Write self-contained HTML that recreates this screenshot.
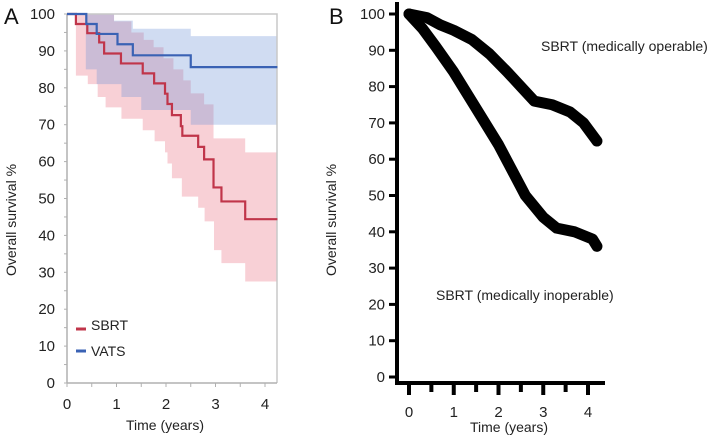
<!DOCTYPE html>
<html><head><meta charset="utf-8"><style>
html,body{margin:0;padding:0;background:#fff;}
svg{display:block;font-family:"Liberation Sans",sans-serif;}
</style></head><body>
<svg width="716" height="436" viewBox="0 0 716 436">
<g id="A"></g>
<g id="B"></g>
</svg>
<script>
const NS="http://www.w3.org/2000/svg";
// Panel A data
const sbrtT=[0,0.18,0.41,0.65,0.75,1.09,1.53,1.76,1.98,2.03,2.12,2.30,2.33,2.65,2.77,2.96,3.12,3.60];
const sbrtV=[100,97.3,94.8,92.3,89.3,86.6,83.9,81.2,78.4,75.6,72.6,69.6,67.0,64.0,60.6,53.0,49.2,44.4];
const vatsT=[0,0.39,0.60,1.02,1.33,2.50];
const vatsV=[100,97.3,94.6,91.8,88.8,85.6];
const sbrtLoT=[0,0.18,0.42,0.62,0.78,1.10,1.53,1.77,1.98,2.03,2.12,2.32,2.65,2.78,2.97,3.12,3.60];
const sbrtLoV=[100,83.3,81,77.5,74.7,71.6,68.5,65.5,62.5,59.5,55.5,50.5,47.5,43.8,36,32.5,27.5];
const sbrtHiT=[0,0.95,1.3,1.55,1.75,1.95,2.15,2.35,2.5,2.77,2.96,3.6];
const sbrtHiV=[100,98,95,93,91,88,85,82,78.5,75.5,66.3,62.5];
const vatsLoT=[0,0.38,0.6,1.1,1.5,2.5];
const vatsLoV=[100,85,81,77.5,74,70];
const vatsHiT=[0,0.95,1.33,2.5];
const vatsHiV=[100,98.2,96,94];
const xTicksA=[0,1,2,3,4];
const yTicksA=[0,10,20,30,40,50,60,70,80,90,100];
// Panel B data
const opT=[0,0.4,0.7,1.0,1.4,1.8,2.2,2.5,2.8,3.2,3.6,3.9,4.2];
const opV=[100,99,97,95.5,93,89,84,80,76,75,73,70,65];
const inopT=[0,0.3,0.6,1.0,1.3,1.6,2.0,2.3,2.6,3.0,3.3,3.7,4.1,4.2];
const inopV=[100,96,91,84,78,72,64,57,50,44,41,40,38,36];
const xTicksB=[0,1,2,3,4];
const yTicksB=[0,10,20,30,40,50,60,70,80,90,100];

const TEND=4.25;
const ax=t=>67+t*49.5, ay=v=>383-v*3.69;
const bx=t=>409+t*44.75, by=v=>377-v*3.63;
function el(tag,attrs,parent,text){const e=document.createElementNS(NS,tag);for(const k in attrs)e.setAttribute(k,attrs[k]);if(text!==undefined)e.textContent=text;parent.appendChild(e);return e;}
function stepPts(T,V){let p=[];for(let i=0;i<T.length;i++){if(i>0)p.push([ax(T[i]),ay(V[i-1])]);p.push([ax(T[i]),ay(V[i])]);}p.push([ax(TEND),ay(V[V.length-1])]);return p;}
const A=document.getElementById('A'),B=document.getElementById('B');

function band(HT,HV,LT,LV,fill,name){const hi=stepPts(HT,HV),lo=stepPts(LT,LV).reverse();const d='M'+hi.concat(lo).map(p=>p.join(',')).join('L')+'Z';
const e=el('path',{d:d,fill:fill},A);

}
band(sbrtHiT,sbrtHiV,sbrtLoT,sbrtLoV,'rgba(232,110,128,0.32)','sbrt-ci-band');
band(vatsHiT,vatsHiV,vatsLoT,vatsLoV,'rgba(110,145,215,0.32)','vats-ci-band');

let f=el('path',{d:`M${ax(0)},${ay(100)}H277V383`,fill:'none',stroke:'#c8c8c8','stroke-width':1.5},A);


let yl=el('line',{x1:67,y1:ay(100),x2:67,y2:383,stroke:'#b0b0b0','stroke-width':1.5},A);


let xl=el('line',{x1:67,y1:383,x2:277,y2:383,stroke:'#b0b0b0','stroke-width':1.5},A);


for(let v=0;v<=100;v+=5){const t=el('line',{x1:64,y1:ay(v),x2:67,y2:ay(v),stroke:'#b0b0b0'},A);

}
for(let t=0;t<=4;t+=0.5){const k=el('line',{x1:ax(t),y1:383,x2:ax(t),y2:387,stroke:'#b0b0b0'},A);

}
yTicksA.forEach(v=>{const t=el('text',{x:55,y:ay(v)+5,'text-anchor':'end','font-size':15,fill:'#222'},A,v);

});
xTicksA.forEach(v=>{const t=el('text',{x:ax(v),y:409,'text-anchor':'middle','font-size':15,fill:'#222'},A,v);

});

function line(T,V,color,name){const p=stepPts(T,V);const e=el('polyline',{points:p.map(q=>q.join(',')).join(' '),fill:'none',stroke:color,'stroke-width':2.2},A);

}
line(sbrtT,sbrtV,'#c0354a','sbrt-curve');
line(vatsT,vatsV,'#3a62b4','vats-curve');

let t;
t=el('text',{x:4,y:24,'font-size':22,fill:'#111'},A,'A');


t=el('text',{x:0,y:0,transform:'translate(16,220) rotate(-90)','text-anchor':'middle','font-size':14,fill:'#222'},A,'Overall survival %');


t=el('text',{x:165,y:430,'text-anchor':'middle','font-size':14,fill:'#222'},A,'Time (years)');


let lg=el('g',{},A);


el('line',{x1:76,y1:329,x2:86,y2:329,stroke:'#c0354a','stroke-width':3},lg);
el('text',{x:91,y:330,'font-size':14,fill:'#222'},lg,'SBRT');
el('line',{x1:76,y1:351,x2:86,y2:351,stroke:'#3a62b4','stroke-width':3},lg);
el('text',{x:91,y:356,'font-size':14,fill:'#222'},lg,'VATS');

// Panel B
t=el('text',{x:329,y:24,'font-size':22,fill:'#111'},B,'B');


t=el('text',{x:0,y:0,transform:'translate(336,220) rotate(-90)','text-anchor':'middle','font-size':14,fill:'#222'},B,'Overall survival %');


let yb=el('line',{x1:397,y1:2,x2:397,y2:384,stroke:'#000','stroke-width':4},B);


let xb=el('line',{x1:395,y1:383,x2:605,y2:383,stroke:'#000','stroke-width':4},B);


yTicksB.forEach(v=>{const k=el('line',{x1:389,y1:by(v),x2:397,y2:by(v),stroke:'#000','stroke-width':3},B);


const l=el('text',{x:385,y:by(v)+5,'text-anchor':'end','font-size':15,fill:'#222'},B,v);

});
for(let s=0;s<=4.4;s+=0.5){const k=el('line',{x1:bx(s),y1:383,x2:bx(s),y2:(s%1===0?395:392),stroke:'#000','stroke-width':4},B);

}
xTicksB.forEach(v=>{const l=el('text',{x:bx(v),y:417,'text-anchor':'middle','font-size':15,fill:'#222'},B,v);

});
t=el('text',{x:509,y:432,'text-anchor':'middle','font-size':14,fill:'#222'},B,'Time (years)');


function curveB(T,V,name){const e=el('polyline',{points:T.map((x,i)=>bx(x)+','+by(V[i])).join(' '),fill:'none',stroke:'#000','stroke-width':11,'stroke-linejoin':'round','stroke-linecap':'round'},B);

}
curveB(opT,opV,'operable-curve');
curveB(inopT,inopV,'inoperable-curve');
t=el('text',{x:541,y:51,'font-size':14,fill:'#222'},B,'SBRT (medically operable)');


t=el('text',{x:436,y:300,'font-size':14,fill:'#222'},B,'SBRT (medically inoperable)');


</script>
</body></html>
